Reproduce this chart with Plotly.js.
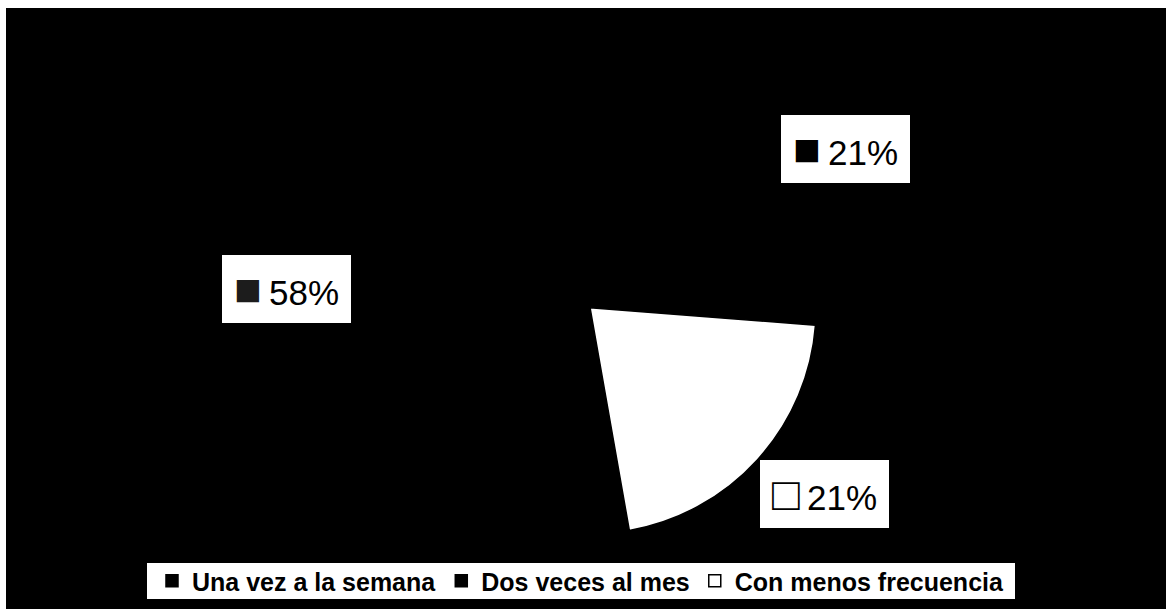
<!DOCTYPE html>
<html>
<head>
<meta charset="utf-8">
<script src="https://cdn.plot.ly/plotly-3.0.1.min.js"></script>
<style>
  html, body { margin: 0; padding: 0; background: #ffffff; }
  #chart { width: 1168px; height: 613px; }
</style>
</head>
<body>
<div id="chart"></div>
<script>
// ---- data ----
var categories = ['Una vez a la semana', 'Dos veces al mes', 'Con menos frecuencia'];
var values = [58, 21, 21];
var sliceColors = ['#000000', '#000000', '#ffffff'];
var iconChars = ['\u25A0', '\u25A0', '\u25A1'];
var iconColors = ['#1c1c1c', '#000000', '#000000'];

// ---- label box placement (layout only) ----
var labelPos = [
  {x: 0.2457, y: 0.5285},
  {x: 0.7239, y: 0.7569},
  {x: 0.7055, y: 0.1949}
];

var total = values.reduce(function (a, b) { return a + b; }, 0);

var trace = {
  type: 'pie',
  labels: categories,
  values: values,
  sort: false,
  direction: 'clockwise',
  rotation: 170,
  pull: [0, 0, 0.15],
  textinfo: 'none',
  hoverinfo: 'none',
  marker: {
    colors: sliceColors,
    line: {color: '#000000', width: 1.5}
  },
  domain: {x: [0.2611, 0.7063], y: [0.1109, 0.9592]}
};

var annotations = values.map(function (v, i) {
  var pct = Math.round(v / total * 100);
  return {
    xref: 'paper', yref: 'paper',
    x: labelPos[i].x, y: labelPos[i].y,
    xanchor: 'center', yanchor: 'middle',
    showarrow: false,
    text: '<span style="font-size:46px;color:' + iconColors[i] + '">' + iconChars[i] + '</span>' +
          '<span style="font-size:26px"> </span>' + pct + '%',
    font: {family: 'Liberation Sans, Arial, sans-serif', size: 35, color: '#000000'},
    bgcolor: '#ffffff',
    borderwidth: 0,
    width: 127,
    height: 66,
    align: 'center',
    valign: 'middle'
  };
});

var layout = {
  width: 1168,
  height: 613,
  margin: {l: 0, r: 0, t: 0, b: 0},
  paper_bgcolor: '#ffffff',
  plot_bgcolor: '#000000',
  showlegend: true,
  legend: {
    orientation: 'h',
    x: 0.497, xanchor: 'center',
    y: 1 - 581 / 613, yanchor: 'middle',
    bgcolor: 'rgba(0,0,0,0)',
    borderwidth: 0,
    font: {family: 'Liberation Sans, Arial, sans-serif', size: 25, color: '#000000', weight: 'bold'},
    itemclick: false, itemdoubleclick: false
  },
  shapes: [{
    type: 'rect', xref: 'paper', yref: 'paper', layer: 'below',
    x0: 6 / 1168, x1: 1166 / 1168, y0: 1 - 609 / 613, y1: 1 - 8 / 613,
    fillcolor: '#000000', line: {width: 0}
  }, {
    type: 'rect', xref: 'paper', yref: 'paper', layer: 'below',
    x0: 147 / 1168, x1: 1015 / 1168, y0: 1 - 599 / 613, y1: 1 - 563 / 613,
    fillcolor: '#ffffff', line: {width: 0}
  }],
  annotations: annotations
};

Plotly.newPlot('chart', [trace], layout, {displayModeBar: false, staticPlot: true});
</script>
</body>
</html>
